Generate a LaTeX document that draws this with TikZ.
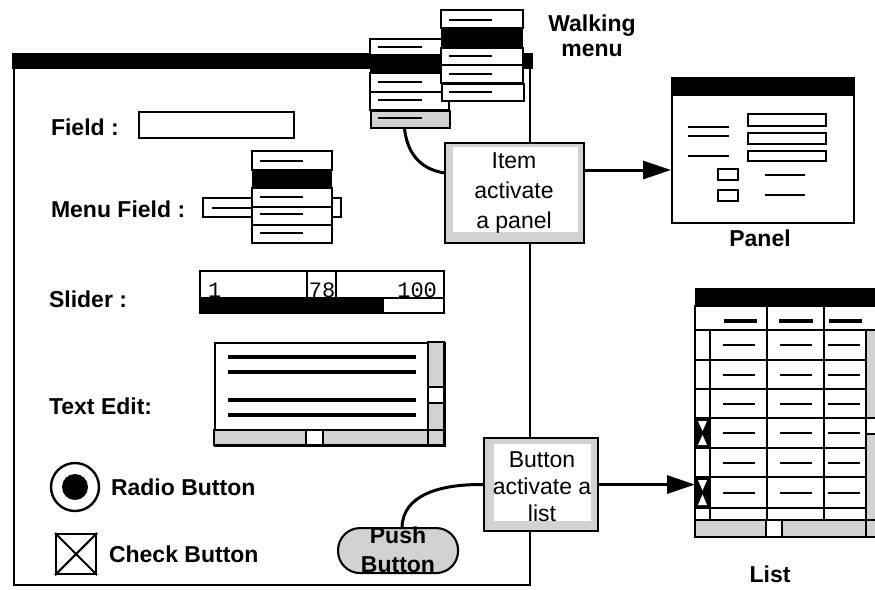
\documentclass[tikz,border=0pt]{standalone}
\usepackage{fontspec}
\setmainfont{Liberation Sans}
\newfontfamily\monofnt{Liberation Mono}
\usetikzlibrary{arrows.meta}
\begin{document}
\begin{tikzpicture}[x=1pt,y=-1pt,line width=2.1pt,
  lbl/.style={font=\fontsize{23}{27}\selectfont\bfseries,anchor=west,inner sep=0},
  ttl/.style={font=\fontsize{23}{25}\selectfont\bfseries,inner sep=0,align=center},
  boxtxt/.style={font=\fontsize{23}{30}\selectfont,align=center,inner sep=0},
  slnum/.style={font=\monofnt\fontsize{22}{24}\selectfont,inner sep=0},
  shd/.style={fill=gray!35},
  conn/.style={line width=3pt},
  arr/.style={line width=3pt,-{Triangle[length=28pt,width=18pt]}},
  mline/.style={line width=2pt},
  tline/.style={line width=3.2pt},
  box/.style={draw,inner sep=0,anchor=north west}]
\useasboundingbox[fill=white] (0,0) rectangle (875,589);

% main window
\draw[line width=2.4pt] (14,69) -- (14,585) -- (530,585) -- (530,69);
\fill (12,53) rectangle (533,69);

% Field
\node[lbl] (lfield) at (50,127) {Field :};
\node[box,minimum width=155pt,minimum height=26pt] (field) at (138,111) {};

% Menu field
\node[lbl] (lmenu) at (50,209) {Menu Field :};
\node[box,minimum width=138pt,minimum height=19pt] (mfield) at (202,197) {};
\draw[mline] (212,208) -- (252,208);
\draw[fill=white] (252,151) rectangle (332,170); \draw[mline] (260,161) -- (303,161);
\fill (252,170) rectangle (332,188);
\draw[fill=white] (252,188) rectangle (332,207); \draw[mline] (260,197) -- (303,197);
\draw[fill=white] (252,207) rectangle (332,225); \draw[mline] (260,214) -- (303,214);
\draw[fill=white] (252,225) rectangle (332,243); \draw[mline] (260,233) -- (303,233);

% Slider
\node[lbl] (lslider) at (48,299) {Slider :};
\node[box,minimum width=244pt,minimum height=42pt] (slider) at (199,270) {};
\fill (199,298) rectangle (384,312);
\draw (199,298) -- (443,298);
\draw (307,270) -- (307,298);
\draw (336,270) -- (336,298);
\node[slnum,anchor=base west] (s1) at (207,297) {1};
\node[slnum,anchor=base] (s78) at (322,297) {78};
\node[slnum,anchor=base east] (s100) at (438,297) {100};

% Text edit
\node[lbl] (ltext) at (48,406) {Text Edit:};
\node[box,minimum width=230pt,minimum height=103pt] (tedit) at (214,342) {};
\draw[shd] (428,342) rectangle (444,430);
\draw[fill=white] (428,387) rectangle (444,403);
\draw[shd] (214,430) rectangle (428,445);
\draw[fill=white] (306,430) rectangle (323,445);
\draw[shd] (428,430) rectangle (444,445);
\foreach \yy in {357,372,400,415} \draw[tline] (228,\yy) -- (416,\yy);

% Radio and check
\draw[line width=2.4pt] (75,487) circle (24pt);
\fill (75,487) circle (13pt);
\node[lbl] (lradio) at (110,487) {Radio Button};
\node[box,minimum width=40pt,minimum height=40pt] (check) at (55,533) {};
\draw (check.north west) -- (check.south east);
\draw (check.north east) -- (check.south west);
\node[lbl] (lcheck) at (108,554) {Check Button};

% Walking menu
\draw[fill=white] (370,39) rectangle (449,55); \draw[mline] (378,47) -- (422,47);
\fill (370,55) rectangle (449,73);
\draw[fill=white] (370,73) rectangle (449,92); \draw[mline] (378,82) -- (422,82);
\draw[fill=white] (370,92) rectangle (449,110); \draw[mline] (378,100) -- (422,100);
\node[box,shd,minimum width=79pt,minimum height=17pt] (m1) at (370,110) {};
\draw[mline] (378,118) -- (422,118);

\draw[fill=white] (441,10) rectangle (523,28); \draw[mline] (449,20) -- (492,20);
\fill (441,28) rectangle (523,48);
\draw[fill=white] (441,48) rectangle (523,65); \draw[mline] (449,56) -- (492,56);
\draw[fill=white] (441,65) rectangle (523,83); \draw[mline] (449,74) -- (492,74);
\node[box,fill=white,minimum width=82pt,minimum height=17pt] (m2) at (441,83) {};
\draw[mline] (449,92) -- (492,92);
\node[ttl] (lwalk) at (592,36) {Walking\\menu};

% Item box
\node[box,shd,minimum width=139pt,minimum height=100pt] (item) at (444,142) {};
\fill[white] (453,147) rectangle (578,232);
\node[boxtxt] (itemtxt) at (514,193) {Item\\activate\\a panel};
\draw[conn] ([xshift=-6pt]m1.south) .. controls (408,158) and (425,170) .. (item.164);

% Panel
\node[box,fill=white,minimum width=182pt,minimum height=145pt] (panel) at (671,77) {};
\fill (671,77) rectangle (853,96);
\draw[mline] (688,127) -- (729,127);
\draw[mline] (688,136) -- (729,136);
\draw[mline] (688,156) -- (729,156);
\draw (748,114) rectangle (826,126);
\draw (748,133) rectangle (826,144);
\draw (748,151) rectangle (826,161);
\draw (718,169) rectangle (738,180);
\draw (718,190) rectangle (738,201);
\draw[mline] (765,175) -- (805,175);
\draw[mline] (765,195) -- (805,195);
\node[ttl] (lpanel) at (760,238) {Panel};
\coordinate (a1) at (583,170);
\draw[arr] (a1) -- (a1 -| panel.west);

% Button box and push button
\node[box,shd,minimum width=114pt,minimum height=93pt] (bbox) at (483,437) {};
\fill[white] (494,444) rectangle (591,521);
\node[boxtxt,font=\fontsize{23}{27}\selectfont] (btxt) at (542,487) {Button\\activate a\\list};
\node[box,shd,rounded corners=22pt,minimum width=120pt,minimum height=45pt] (pill) at (337,527) {};
\node[ttl,font=\fontsize{23}{29}\selectfont\bfseries] (pilltxt) at (398,550) {Push\\Button};
\draw[conn] ([xshift=4pt]pill.north) .. controls (403,495) and (440,484) .. (bbox.west);

% List
\node[inner sep=0,anchor=north west,minimum width=180pt,minimum height=249pt] (list) at (695,288) {};
\begin{scope}
\clip (0,0) rectangle (875,589);
\fill (695,288) rectangle (880,306);
\draw[fill=white] (695,306) rectangle (880,330);
\draw (767,306) -- (767,330);
\draw (824,306) -- (824,330);
\draw[tline] (724,321) -- (757,321);
\draw[tline] (779,321) -- (813,321);
\draw[tline] (829,321) -- (862,321);
\draw[fill=white] (695,330) rectangle (866,520);
\foreach \yy in {360,389,418,448,477,508} \draw (695,\yy) -- (866,\yy);
\foreach \xx in {710,767,824} \draw (\xx,330) -- (\xx,520);
\foreach \yy in {345,374.5,403.5,433,462.5,492.5} {
  \draw[mline] (723,\yy) -- (755,\yy);
  \draw[mline] (780,\yy) -- (812,\yy);
  \draw[mline] (828,\yy) -- (860,\yy);
}
\foreach \ya/\yb in {418/448,477/508} {
  \fill (695,\ya) rectangle (710,\yb);
  \fill[white] (698,\ya+3) -- (707,\ya+3) -- (702.5,{(\ya+\yb)/2-2}) -- cycle;
  \fill[white] (698,\yb-3) -- (707,\yb-3) -- (702.5,{(\ya+\yb)/2+2}) -- cycle;
}
\draw[shd] (866,330) rectangle (880,520);
\draw[fill=white] (866,418) rectangle (880,434);
\draw[shd] (695,520) rectangle (866,537);
\draw[fill=white] (766,520) rectangle (782,537);
\draw[shd] (866,520) rectangle (880,537);
\end{scope}
\node[ttl] (llist) at (770,574) {List};
\draw[arr] (bbox.east) -- (bbox.east -| list.west);
\end{tikzpicture}
\end{document}
